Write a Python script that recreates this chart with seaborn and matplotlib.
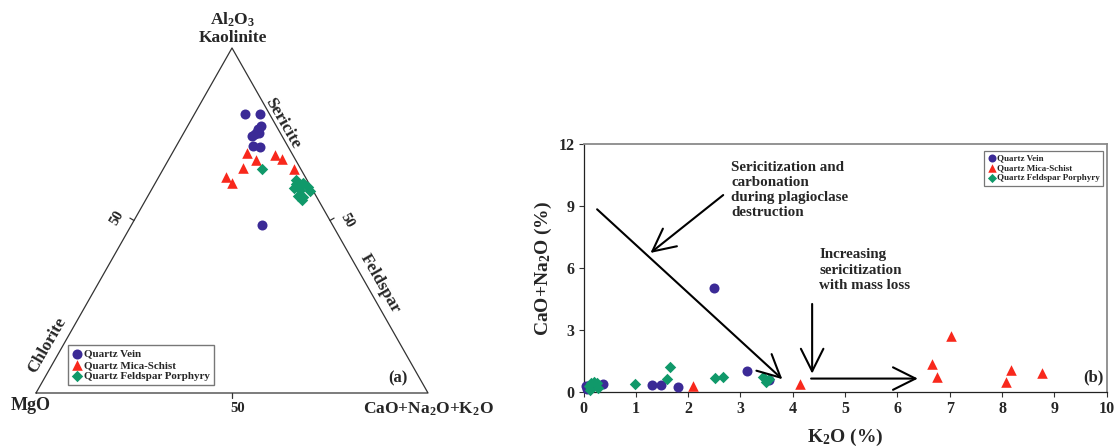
import numpy as np
import pandas as pd
import matplotlib
matplotlib.use("Agg")
import matplotlib.pyplot as plt
import seaborn as sns

# ---------------------------------------------------------------- data
groups = ["Quartz Vein", "Quartz Mica-Schist", "Quartz Feldspar Porphyry"]
colors = ["#3b2a96", "#f8281c", "#10996a"]
markers = ["o", "^", "D"]

# Ternary compositions (%): Al2O3 - (CaO+Na2O+K2O) - MgO
vein_al2o3 = [80.8, 80.8, 77.4, 76.4, 75.7, 75.1, 75.4, 74.5, 71.7, 71.2, 48.7]
vein_cnk = [12.9, 16.8, 18.7, 18.5, 18.4, 18.2, 19.2, 17.9, 19.6, 21.5, 33.4]
vein_mgo = [6.3, 2.4, 3.9, 5.1, 5.9, 6.7, 5.4, 7.6, 8.7, 7.3, 17.9]

schist_al2o3 = [69.7, 67.5, 69.0, 67.8, 65.3, 64.8, 62.7, 60.8]
schist_cnk = [18.9, 22.4, 26.5, 28.9, 20.1, 33.4, 17.1, 19.5]
schist_mgo = [11.4, 10.1, 4.5, 3.3, 14.6, 1.8, 20.2, 19.7]

porph_al2o3 = [64.9, 61.7, 61.0, 59.6, 59.3, 58.8, 57.1, 56.7, 55.9, 57.9, 60.6]
porph_cnk = [25.3, 35.6, 37.7, 39.7, 36.2, 37.9, 38.4, 39.8, 39.8, 40.1, 36.0]
porph_mgo = [9.8, 2.7, 1.3, 0.7, 4.5, 3.3, 4.5, 3.5, 4.3, 0.9, 3.4]

# K2O vs CaO+Na2O (%)
vein_k2o = [0.04, 0.08, 0.12, 0.18, 0.38, 0.06, 1.31, 1.49, 1.81, 2.49, 3.13, 3.55]
vein_cn = [0.30, 0.22, 0.35, 0.28, 0.38, 0.15, 0.32, 0.32, 0.26, 5.05, 1.03, 0.58]
schist_k2o = [2.09, 4.14, 6.66, 6.75, 7.03, 8.08, 8.17, 8.77]
schist_cn = [0.29, 0.39, 1.34, 0.74, 2.73, 0.50, 1.07, 0.91]
porph_k2o = [0.10, 0.15, 0.20, 0.25, 0.28, 0.12, 0.99, 1.60, 1.66, 2.52, 2.66,
             3.43, 3.48, 3.55]
porph_cn = [0.30, 0.42, 0.50, 0.45, 0.20, 0.12, 0.39, 0.65, 1.20, 0.68, 0.73,
            0.73, 0.49, 0.65]

x_ticks = list(range(0, 11))
y_ticks = [0, 3, 6, 9, 12]

# ---------------------------------------------------------------- tables
def ternary_frame(name, al, cnk, mgo):
    al, cnk, mgo = map(np.asarray, (al, cnk, mgo))
    tot = al + cnk + mgo
    return pd.DataFrame({
        "x": (cnk + al / 2) / tot,
        "y": al / tot * np.sqrt(3) / 2,
        "group": name,
    })

tern = pd.concat([
    ternary_frame(groups[0], vein_al2o3, vein_cnk, vein_mgo),
    ternary_frame(groups[1], schist_al2o3, schist_cnk, schist_mgo),
    ternary_frame(groups[2], porph_al2o3, porph_cnk, porph_mgo),
], ignore_index=True)

binary = pd.concat([
    pd.DataFrame({"K2O": vein_k2o, "CN": vein_cn, "group": groups[0]}),
    pd.DataFrame({"K2O": schist_k2o, "CN": schist_cn, "group": groups[1]}),
    pd.DataFrame({"K2O": porph_k2o, "CN": porph_cn, "group": groups[2]}),
], ignore_index=True)

palette = dict(zip(groups, colors))
marker_map = dict(zip(groups, markers))
size_map = {groups[0]: 52, groups[1]: 58, groups[2]: 34}

# ---------------------------------------------------------------- style
sns.set_style("ticks")
plt.rcParams["font.family"] = ["Liberation Serif", "DejaVu Serif"]
plt.rcParams["font.weight"] = "bold"
plt.rcParams["mathtext.fontset"] = "custom"
plt.rcParams["mathtext.rm"] = "Liberation Serif:bold"
plt.rcParams["mathtext.it"] = "Liberation Serif:bold"
plt.rcParams["mathtext.bf"] = "Liberation Serif:bold"

W, H = 1117, 447
fig = plt.figure(figsize=(W / 100, H / 100), dpi=100)

# ---------------------------------------------------------------- ternary
ax1 = fig.add_axes([0, 0, 540 / W, 1])
sx, sy = 392.0, 398.4          # pixels per unit
ox, oy = 36.0, 54.0            # pixel position of the MgO corner
ax1.set_xlim(-ox / sx, (540 - ox) / sx)
ax1.set_ylim(-oy / sy, (H - oy) / sy)
ax1.axis("off")

h = np.sqrt(3) / 2
ax1.plot([0, 1, 0.5, 0], [0, 0, h, 0], color="#333333", lw=0.9, zorder=1)

# 50 % ticks on each side
tl = 0.012
ax1.plot([0.5, 0.5], [0, -tl], color="#333333", lw=0.9)
ax1.plot([0.25, 0.25 - tl * 0.866], [h / 2, h / 2 + tl * 0.5], color="#333333", lw=0.9)
ax1.plot([0.75, 0.75 + tl * 0.866], [h / 2, h / 2 + tl * 0.5], color="#333333", lw=0.9)

for g in groups:
    sub = tern[tern.group == g]
    sns.scatterplot(data=sub, x="x", y="y", color=palette[g], marker=marker_map[g],
                    s=size_map[g], linewidth=0, ax=ax1, label=g, zorder=3)

ax1.text(0.5026, 0.936, "Al$_2$O$_3$", ha="center", va="center", fontsize=12.5)
ax1.text(0.5026, 0.891, "Kaolinite", ha="center", va="center", fontsize=12.5)
ax1.text(-0.0135, -0.0326, "MgO", ha="center", va="center", fontsize=13)
ax1.text(1.0, -0.041, "CaO+Na$_2$O+K$_2$O", ha="center", va="center", fontsize=12.5)
ax1.text(0.515, -0.0377, "50", ha="center", va="center", fontsize=10.5)
ax1.text(0.2066, 0.439, "50", ha="center", va="center", fontsize=10.5, rotation=60)
ax1.text(0.793, 0.434, "50", ha="center", va="center", fontsize=10.5, rotation=-60)
ax1.text(0.630, 0.678, "Sericite", ha="center", va="center", fontsize=12.5, rotation=-60)
ax1.text(0.878, 0.276, "Feldspar", ha="center", va="center", fontsize=12.5, rotation=-60)
ax1.text(0.029, 0.119, "Chlorite", ha="center", va="center", fontsize=12.5, rotation=60)
ax1.text(0.924, 0.0369, "(a)", ha="center", va="center", fontsize=12)

leg1 = ax1.legend(loc="lower left", bbox_to_anchor=(68 / 540, (H - 385) / H),
                  borderaxespad=0, frameon=True, fancybox=False, fontsize=7.9,
                  handletextpad=0.1, handlelength=1.0, borderpad=0.35,
                  labelspacing=0.15, edgecolor="#555555")
leg1.get_frame().set_linewidth(1.0)

# ---------------------------------------------------------------- K2O plot
ax2 = fig.add_axes([583.5 / W, (H - 392) / H, (1106.7 - 583.5) / W, (392 - 144) / H])
for g in groups:
    sub = binary[binary.group == g]
    sns.scatterplot(data=sub, x="K2O", y="CN", color=palette[g], marker=marker_map[g],
                    s=size_map[g], linewidth=0, ax=ax2, label=g, zorder=3,
                    clip_on=False)

ax2.set_xlim(0, 10)
ax2.set_ylim(0, 12)
ax2.set_xticks(x_ticks)
ax2.set_yticks(y_ticks)
ax2.tick_params(axis="both", labelsize=11.5, length=3.5, width=0.8, direction="out",
                pad=3, color="#333333")
for lab in ax2.get_xticklabels() + ax2.get_yticklabels():
    lab.set_fontweight("bold")
for side in ("left", "bottom"):
    ax2.spines[side].set_color("#222222")
    ax2.spines[side].set_linewidth(0.9)
for side in ("top", "right"):
    ax2.spines[side].set_visible(True)
    ax2.spines[side].set_color("#8a8a8a")
    ax2.spines[side].set_linewidth(1.3)

ax2.set_xlabel("K$_2$O (%)", fontsize=14, fontweight="bold", labelpad=7)
ax2.set_ylabel("CaO+Na$_2$O (%)", fontsize=14, fontweight="bold", labelpad=3)

arrow_kw = dict(arrowstyle="->,head_length=0.9,head_width=0.45", color="black",
                lw=1.5, mutation_scale=18, shrinkA=0, shrinkB=0)
ax2.annotate("", xy=(3.80, 0.62), xytext=(0.26, 8.84), arrowprops=arrow_kw)
ax2.annotate("", xy=(1.28, 6.73), xytext=(2.67, 9.53), arrowprops=arrow_kw)
ax2.annotate("", xy=(4.37, 0.89), xytext=(4.37, 4.26), arrowprops=arrow_kw)
ax2.annotate("", xy=(6.39, 0.65), xytext=(4.35, 0.65), arrowprops=arrow_kw)

ax2.text(2.82, 11.2, "Sericitization and\ncarbonation\nduring plagioclase\ndestruction",
         ha="left", va="top", fontsize=10.8, linespacing=1.22)
ax2.text(4.51, 6.95, "Increasing\nsericitization\nwith mass loss",
         ha="left", va="top", fontsize=10.8, linespacing=1.22)
ax2.text(9.75, 0.70, "(b)", ha="center", va="center", fontsize=12)

leg2 = ax2.legend(loc="upper right", bbox_to_anchor=(0.992, 0.973),
                  borderaxespad=0, frameon=True, fancybox=False, fontsize=6.5,
                  handletextpad=0.1, handlelength=0.9, borderpad=0.35,
                  labelspacing=0.2, edgecolor="#555555", markerscale=0.8)
leg2.get_frame().set_linewidth(0.9)

fig.savefig("out.png", dpi=100)
